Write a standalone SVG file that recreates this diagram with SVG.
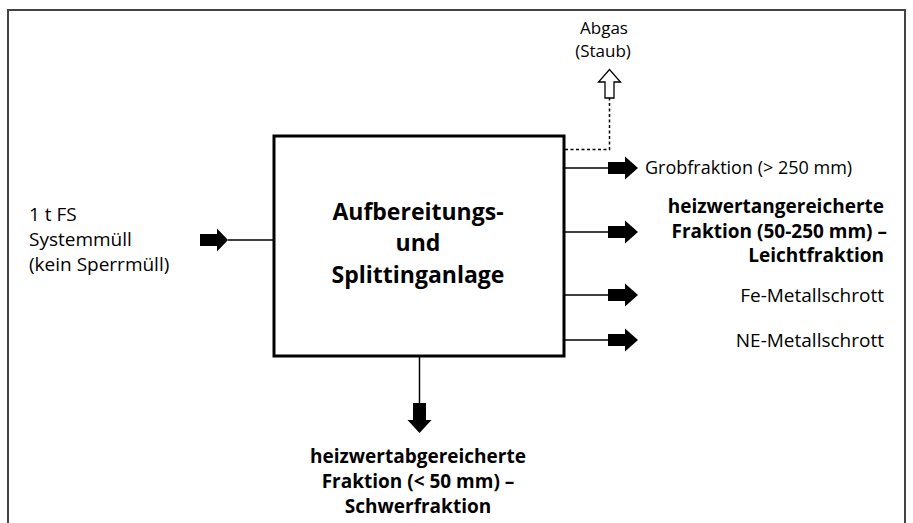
<svg xmlns="http://www.w3.org/2000/svg" width="913" height="523" viewBox="0 0 913 523">
<style>
text{font-family:"Open Sans","Noto Sans","Liberation Sans",sans-serif;fill:#000;font-size:19px}
.b{font-weight:bold}
.big{font-size:23px;font-weight:bold}
.sm{font-size:18px}
.xs{font-size:17px}
.ln{stroke:#000;stroke-width:1.5;fill:none}
.dot{stroke:#000;stroke-width:1.5;stroke-dasharray:3,2.5;fill:none}
.ar{fill:#000;stroke:none}
</style>
<rect width="913" height="523" fill="#fff"/>
<path d="M8,523 V10 H905 V523" fill="none" stroke="#444" stroke-width="2"/>
<g id="box">
<rect x="274" y="136" width="290" height="220" fill="#fff" stroke="#000" stroke-width="3"/>
<text class="big" x="418" y="220" text-anchor="middle">Aufbereitungs-</text>
<text class="big" x="418" y="251" text-anchor="middle">und</text>
<text class="big" x="418" y="283" text-anchor="middle">Splittinganlage</text>
</g>
<g id="input">
<text x="29" y="221">1 t FS</text>
<text x="29" y="246">Systemmüll</text>
<text x="29" y="271">(kein Sperrmüll)</text>
</g>
<g id="abgas">
<text class="xs" x="604" y="34" text-anchor="middle">Abgas</text>
<text class="xs" x="603" y="57" text-anchor="middle">(Staub)</text>
</g>
<g id="grob"><text class="sm" x="645" y="174">Grobfraktion (&gt; 250 mm)</text></g>
<g id="leicht">
<text class="b" x="884" y="213" text-anchor="end">heizwertangereicherte</text>
<text class="b" x="887" y="238" text-anchor="end">Fraktion (50-250 mm) –</text>
<text class="b" x="884" y="262" text-anchor="end">Leichtfraktion</text>
</g>
<g id="fe"><text x="884" y="302" text-anchor="end">Fe-Metallschrott</text></g>
<g id="ne"><text x="884" y="347" text-anchor="end">NE-Metallschrott</text></g>
<g id="schwer">
<text class="b" x="418" y="463" text-anchor="middle">heizwertabgereicherte</text>
<text class="b" x="418" y="488" text-anchor="middle">Fraktion (&lt; 50 mm) –</text>
<text class="b" x="418" y="513" text-anchor="middle">Schwerfraktion</text>
</g>
<g id="connectors">
<line class="ln" x1="228" y1="240" x2="274" y2="240"/>
<path class="ar" d="M200,234 H217 V228.5 L228,240 L217,251.5 V246 H200 Z"/>
<path class="dot" d="M565,149.5 H609.5 V98"/>
<path d="M605,98 V82 H598.5 L609.5,69.5 L620.5,82 H614 V98 Z" fill="#fff" stroke="#000" stroke-width="1.3"/>
<line class="ln" x1="565" y1="168" x2="608" y2="168"/>
<path class="ar" d="M608,162 H625 V156.5 L638,168 L625,179.5 V174 H608 Z"/>
<line class="ln" x1="565" y1="232" x2="608" y2="232"/>
<path class="ar" d="M608,226 H625 V220.5 L638,232 L625,243.5 V238 H608 Z"/>
<line class="ln" x1="565" y1="295" x2="608" y2="295"/>
<path class="ar" d="M608,289 H625 V283.5 L638,295 L625,306.5 V301 H608 Z"/>
<line class="ln" x1="565" y1="340" x2="608" y2="340"/>
<path class="ar" d="M608,334 H625 V328.5 L638,340 L625,351.5 V346 H608 Z"/>
<line class="ln" x1="419.5" y1="357" x2="419.5" y2="403"/>
<path class="ar" d="M413,403 V420 H407.5 L419.5,433 L431.5,420 H426 V403 Z"/>
</g>
</svg>
